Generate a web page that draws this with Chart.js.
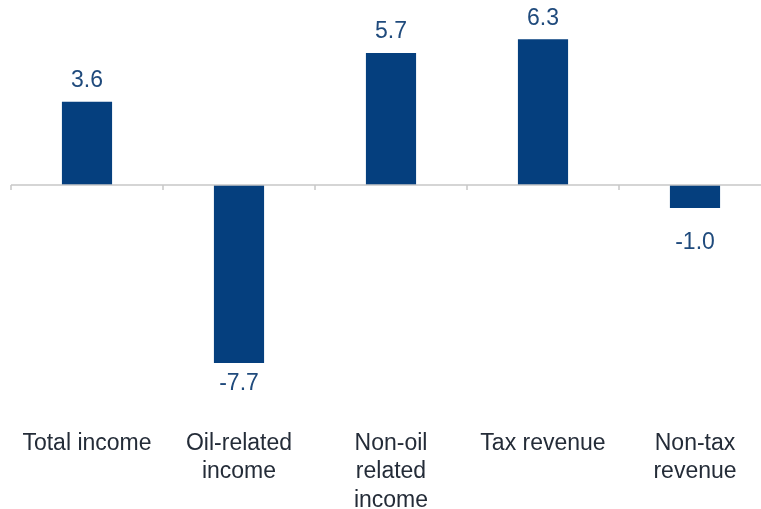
<!DOCTYPE html>
<html>
<head>
<meta charset="utf-8">
<script src="https://cdn.jsdelivr.net/npm/chart.js@4"></script>
<style>
  body { margin: 0; overflow: hidden; background: #fff; }
  #wrap { position: relative; width: 771px; height: 509px; }
</style>
</head>
<body>
<div id="wrap"><canvas id="chart"></canvas></div>
<script>
var categories = [
    'Total income',
    ['Oil-related', 'income'],
    ['Non-oil', 'related', 'income'],
    'Tax revenue',
    ['Non-tax', 'revenue']
]
var values = [3.6, -7.7, 5.7, 6.3, -1.0]

// zero line with small ticks between categories, and value labels
var decorations = {
    id: 'decorations',
    afterDatasetsDraw: function (chart) {
        var ctx = chart.ctx
        var y = chart.scales.y
        var zero = y.getPixelForValue(0)
        ctx.save()
        ctx.strokeStyle = '#c8c8c8'
        ctx.lineWidth = 1.5
        ctx.beginPath()
        ctx.moveTo(chart.chartArea.left, zero)
        ctx.lineTo(chart.chartArea.right, zero)
        for (var i = 0; i <= categories.length; i++) {
            var px = chart.chartArea.left + i * (chart.chartArea.right - chart.chartArea.left) / categories.length
            ctx.moveTo(px, zero)
            ctx.lineTo(px, zero + 5)
        }
        ctx.stroke()

        ctx.fillStyle = '#1f4a7c'
        ctx.font = '23px "Liberation Sans", Arial, sans-serif'
        ctx.textAlign = 'center'
        ctx.textBaseline = 'middle'
        var meta = chart.getDatasetMeta(0)
        meta.data.forEach(function (bar, i) {
            var v = values[i]
            var ly
            if (v >= 0) {
                ly = bar.y - 21
            } else {
                ly = Math.max(bar.y + 21, zero + 58)
            }
            ctx.fillText(v.toFixed(1), bar.x, ly)
        })
        ctx.restore()
    }
}

new Chart(
    document.getElementById('chart'),
    {
        type: 'bar',
        data: {
            labels: categories,
            datasets: [
                {
                    data: values,
                    backgroundColor: '#053f7e',
                    borderWidth: 0,
                    categoryPercentage: 1,
                    barPercentage: 0.33
                }
            ]
        },
        options: {
            responsive: true,
            maintainAspectRatio: false,
            animation: false,
            layout: {
                padding: { top: 23, left: 11, right: 0, bottom: 0 }
            },
            plugins: {
                legend: { display: false },
                tooltip: { enabled: false }
            },
            scales: {
                x: {
                    grid: { display: false },
                    border: { display: false },
                    afterFit: function (scale) {
                        scale.height = 116
                        scale.paddingLeft = 0
                        scale.paddingRight = 0
                    },
                    ticks: {
                        color: '#242c38',
                        padding: 28,
                        maxRotation: 0,
                        autoSkip: false,
                        font: { family: '"Liberation Sans", Arial, sans-serif', size: 23, lineHeight: 1.24 }
                    }
                },
                y: {
                    display: false,
                    min: -9,
                    max: 7
                }
            }
        },
        plugins: [decorations]
    }
);
</script>
</body>
</html>
